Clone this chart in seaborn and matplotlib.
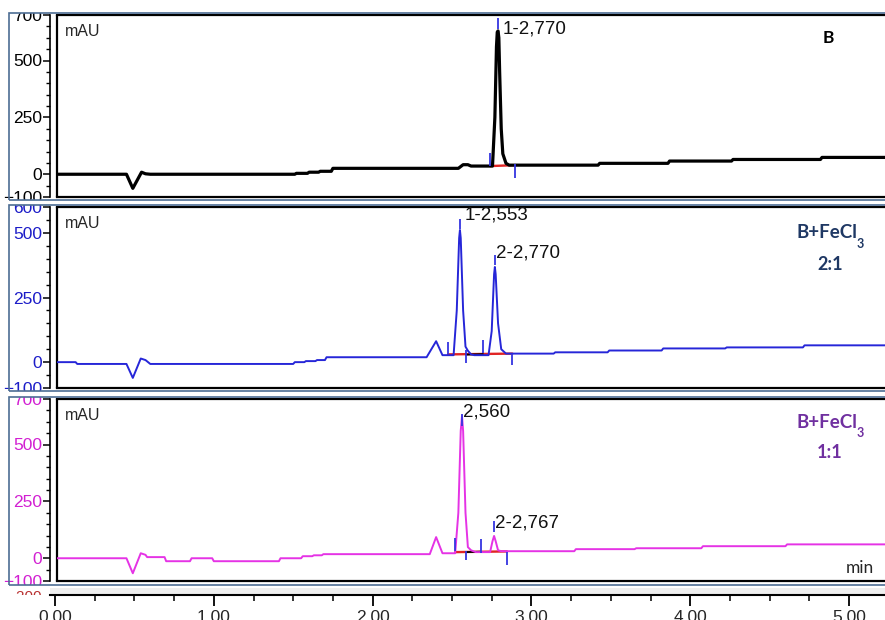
import matplotlib
matplotlib.use("Agg")
import matplotlib.pyplot as plt
from matplotlib.patches import Rectangle
from matplotlib.ticker import MultipleLocator
from matplotlib.transforms import Bbox, TransformedBbox
import seaborn as sns

# ---- data (time in min, signal in mAU) ----
time_b = [0.01, 0.45, 0.49, 0.545, 0.57, 0.60, 1.51, 1.52, 1.59, 1.60, 1.66, 1.67, 1.74, 1.75,
          2.54, 2.57, 2.60, 2.62, 2.755, 2.77, 2.78, 2.785, 2.79, 2.795, 2.80, 2.81, 2.82, 2.84,
          2.86, 3.42, 3.43, 3.86, 3.87, 4.26, 4.27, 4.82, 4.83, 5.26]
mau_b = [0, 0, -62, 9, 2, 0, 0, 4, 4, 9, 9, 13, 13, 26,
         26, 42, 42, 36, 36, 250, 560, 625, 630, 600, 450, 200, 90, 48,
         40, 40, 48, 48, 58, 58, 65, 65, 74, 74]

time_21 = [0.01, 0.13, 0.14, 0.45, 0.49, 0.54, 0.57, 0.60, 1.50, 1.51, 1.57, 1.58, 1.64, 1.65,
           1.70, 1.71, 2.34, 2.40, 2.44, 2.51, 2.53, 2.545, 2.55, 2.555, 2.57, 2.585, 2.60, 2.62,
           2.64, 2.73, 2.75, 2.765, 2.77, 2.775, 2.79, 2.81, 2.84, 3.14, 3.15, 3.48, 3.49, 3.82,
           3.83, 4.22, 4.23, 4.71, 4.72, 5.26]
mau_21 = [0, 0, -7, -7, -61, 14, 8, -7, -7, 0, 0, 4, 4, 8,
          8, 19, 19, 81, 27, 27, 200, 480, 511, 480, 200, 60, 44, 30,
          27, 27, 120, 340, 368, 340, 150, 50, 33, 33, 38, 38, 45, 45,
          53, 53, 57, 57, 65, 65]

time_11 = [0.01, 0.45, 0.49, 0.54, 0.57, 0.58, 0.69, 0.70, 0.85, 0.86, 0.99, 1.00, 1.41, 1.42,
           1.55, 1.56, 1.62, 1.63, 1.68, 1.69, 2.36, 2.40, 2.44, 2.52, 2.54, 2.555, 2.563, 2.57,
           2.585, 2.60, 2.62, 2.65, 2.74, 2.755, 2.765, 2.775, 2.79, 2.81, 3.27, 3.28, 3.65, 3.66,
           4.07, 4.08, 4.60, 4.61, 5.26]
mau_11 = [0, 0, -66, 22, 15, 5, 5, -13, -13, 0, 0, -13, -13, 0,
          0, 9, 9, 13, 13, 18, 18, 93, 22, 22, 200, 560, 625, 560,
          200, 49, 35, 27, 27, 75, 98, 75, 35, 31, 31, 40, 40, 44,
          44, 53, 53, 61, 61]

# integration baselines: (t_start, t_end, mAU_start, mAU_end)
base_b = [(2.74, 2.90, 36, 40)]
base_21 = [(2.475, 2.88, 30, 33)]
base_11 = [(2.52, 2.846, 27, 30)]
split_21 = [(2.59, 2.695, 29, 31)]
split_11 = [(2.59, 2.68, 27, 29)]
# peak / boundary markers: (t, mAU_low, mAU_high)
marks_b = [(2.74, 35, 92), (2.897, -18, 44), (2.79, 637, 685)]
marks_21 = [(2.475, 30, 78), (2.59, -4, 46), (2.695, 35, 85), (2.88, -11, 30),
            (2.55, 515, 555), (2.77, 375, 414)]
marks_11 = [(2.52, 30, 89), (2.59, -8, 32), (2.68, 23, 85), (2.846, -30, 27),
            (2.563, 580, 632), (2.765, 115, 164)]
# peak labels: (text, t, mAU)
labels_b = [("1-2,770", 2.82, 640)]
labels_21 = [("1-2,553", 2.58, 569), ("2-2,770", 2.78, 422)]
labels_11 = [("2,560", 2.57, 642), ("2-2,767", 2.77, 155)]

yticks_b = [-100, 0, 250, 500, 700]
yticks_21 = [-100, 0, 250, 500, 600]
yticks_11 = [-100, 0, 250, 500, 700]
ylim_b = (-100, 700)
ylim_21 = (-100, 600)
ylim_11 = (-100, 700)

x_ticks = [0, 1, 2, 3, 4, 5]
x_tick_labels = ["0.00", "1.00", "2.00", "3.00", "4.00", "5.00"]

# ---- layout (pixels) ----
W, H = 885, 620
X0_PX, PX_PER_MIN = 55, 158.8


def px_to_min(x):
    return (x - X0_PX) / PX_PER_MIN


def fbox(x0, y0, x1, y1):
    return [x0 / W, 1 - y1 / H, (x1 - x0) / W, (y1 - y0) / H]


sns.set_style("white")
plt.rcParams["font.family"] = ["Liberation Sans", "DejaVu Sans"]

fig = plt.figure(figsize=(W / 100, H / 100), dpi=100)

panels = [
    dict(t=time_b, y=mau_b, color="black", lw=2.3, tick_color="black", ylim=ylim_b,
         yticks=yticks_b, base=base_b, split=[], marks=marks_b, labels=labels_b,
         inner=(15, 197), outer=(13, 200)),
    dict(t=time_21, y=mau_21, color="#2626d8", lw=1.4, tick_color="#1c1cc8", ylim=ylim_21,
         yticks=yticks_21, base=base_21, split=split_21, marks=marks_21, labels=labels_21,
         inner=(207, 388), outer=(205, 391)),
    dict(t=time_11, y=mau_11, color="#e533e5", lw=1.4, tick_color="#d21fd2", ylim=ylim_11,
         yticks=yticks_11, base=base_11, split=split_11, marks=marks_11, labels=labels_11,
         inner=(399, 581), outer=(397, 585)),
]

for p in panels:
    oy0, oy1 = p["outer"]
    fig.patches.append(Rectangle((9 / W, 1 - oy1 / H), 1.0, (oy1 - oy0) / H, fill=False,
                                 edgecolor="#4d6d94", lw=1.2, transform=fig.transFigure))
    iy0, iy1 = p["inner"]
    ax = fig.add_axes(fbox(57, iy0, 890, iy1))
    sns.lineplot(x=p["t"], y=p["y"], ax=ax, color=p["color"], lw=p["lw"],
                 estimator=None, sort=False, zorder=3)
    for t0, t1, y0, y1 in p["base"]:
        ax.plot([t0, t1], [y0, y1], color="#e02424", lw=1.7, zorder=2)
    for t0, t1, y0, y1 in p["split"]:
        ax.plot([t0, t1], [y0, y1], color="black", lw=1.3, zorder=2)
    for t, lo, hi in p["marks"]:
        ax.vlines(t, lo, hi, color="#3535e0", lw=1.3, zorder=4)
    for txt, t, v in p["labels"]:
        ax.text(t, v, txt, fontsize=13.5, va="center", ha="left", color="#111111")

    ax.set_xlim(px_to_min(57), px_to_min(890))
    ax.set_ylim(*p["ylim"])
    ax.set_xticks([])
    ax.set_yticks(p["yticks"])
    ax.yaxis.set_minor_locator(MultipleLocator(50))
    ax.set_xlabel("")
    ax.set_ylabel("")
    for s in ["top", "bottom", "right"]:
        ax.spines[s].set_color("black")
        ax.spines[s].set_linewidth(1.6)
    ax.spines["left"].set_position(("outward", 5))
    ax.spines["left"].set_color("black")
    ax.spines["left"].set_linewidth(1.2)
    ax.plot([0, 0], [0, 1], transform=ax.transAxes, color="black", lw=1.6, clip_on=False)
    ax.tick_params(axis="y", which="major", left=True, length=5, width=1.1, pad=0.5,
                   labelsize=12.5, labelcolor=p["tick_color"], color="black")
    ax.tick_params(axis="y", which="minor", left=True, length=3, width=1.0, color="black")
    clip = TransformedBbox(Bbox.from_extents(0, 1 - oy1 / H, 1, 1 - oy0 / H), fig.transFigure)
    for tk in ax.yaxis.get_major_ticks():
        tk.label1.set_clip_box(clip)
        tk.label1.set_clip_on(True)

    fig.text(65 / W, 1 - (iy0 + 17) / H, "mAU", fontsize=11.5, va="center", ha="left")

# panel titles
fig.text(828 / W, 1 - 38 / H, "B", fontsize=12.5, fontweight="bold", family="Lato",
         ha="center", va="center", color="black")
for cy, ratio, col in [(233, "2:1", "#1f3864"), (422, "1:1", "#7030a0")]:
    fig.text(796 / W, 1 - cy / H, "B+FeCl", fontsize=13.5, fontweight="bold", family="Lato",
             ha="left", va="center", color=col)
    fig.text(857 / W, 1 - (cy + 11) / H, "3", fontsize=9, fontweight="bold", family="Lato",
             ha="left", va="center", color=col)
    fig.text(830 / W, 1 - (cy + 31) / H, ratio, fontsize=13, fontweight="bold", family="Lato",
             ha="center", va="center", color=col)
fig.text(860 / W, 1 - 568 / H, "min", fontsize=12.5, family="Lato", ha="center", va="center")

# shared time axis at the bottom
axb = fig.add_axes(fbox(50, 588, 890, 595))
axb.set_facecolor("#efefef")
axb.set_xlim(px_to_min(50), px_to_min(890))
axb.set_yticks([])
axb.set_xticks(x_ticks)
axb.set_xticklabels(x_tick_labels)
axb.xaxis.set_minor_locator(MultipleLocator(0.25))
for s in ["top", "left", "right"]:
    axb.spines[s].set_visible(False)
axb.spines["bottom"].set_color("black")
axb.spines["bottom"].set_linewidth(1.5)
axb.tick_params(axis="x", which="major", bottom=True, length=8, width=1.3, pad=3,
                labelsize=12.5, color="black")
axb.tick_params(axis="x", which="minor", bottom=True, length=4, width=1.1, color="black")

t200 = fig.text(42 / W, 1 - 597 / H, "-200", fontsize=11, color="#b83030",
                ha="right", va="center")
t200.set_clip_box(TransformedBbox(Bbox.from_extents(0, 1 - 595 / H, 1, 1 - 586 / H),
                                  fig.transFigure))
t200.set_clip_on(True)

fig.savefig("out.png", dpi=100)
